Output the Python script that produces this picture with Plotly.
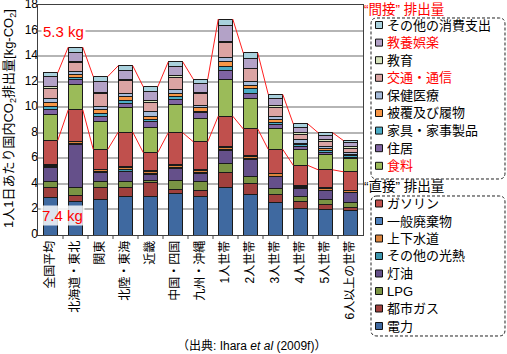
import plotly.graph_objects as go

# ---------------- data ----------------
categories = ["全国平均", "北海道・東北", "関東", "北陸・東海", "近畿", "中国・四国", "九州・沖縄",
              "1人世帯", "2人世帯", "3人世帯", "4人世帯", "5人世帯", "6人以上の世帯"]

# direct emissions (bottom -> top)
denryoku   = [2.9, 2.6, 2.8, 3.0, 3.0, 3.25, 3.0, 3.7, 3.2, 2.55, 2.1, 2.0, 1.9]
toshigas   = [0.85, 0.5, 0.9, 0.7, 1.1, 0.35, 0.5, 1.2, 0.85, 0.65, 0.55, 0.35, 0.25]
lpg        = [0.45, 0.6, 0.45, 0.5, 0.2, 0.65, 0.65, 0.7, 0.55, 0.45, 0.35, 0.4, 0.4]
touyu      = [1.05, 3.4, 0.75, 0.8, 0.45, 0.95, 0.7, 1.0, 1.3, 0.9, 0.65, 0.7, 0.75]
sonota_kou = [0.1, 0.08, 0.07, 0.1, 0.08, 0.1, 0.07, 0.1, 0.1, 0.05, 0.05, 0.05, 0.05]
jougesui   = [0.12, 0.12, 0.13, 0.15, 0.15, 0.15, 0.12, 0.15, 0.15, 0.2, 0.1, 0.15, 0.1]
haikibutsu = [0.08, 0.05, 0.05, 0.1, 0.07, 0.1, 0.06, 0.1, 0.1, 0.05, 0.05, 0.05, 0.05]
gasoline   = [1.85, 2.45, 1.55, 2.7, 1.4, 2.45, 2.2, 2.35, 2.05, 1.85, 1.6, 1.4, 1.45]

# indirect emissions (bottom -> top)
shokuryo   = [2.05, 1.95, 2.2, 1.95, 2.0, 2.2, 1.85, 2.85, 2.4, 1.6, 1.25, 1.2, 1.05]
jukyo      = [0.4, 0.4, 0.4, 0.3, 0.4, 0.4, 0.4, 0.7, 0.4, 0.35, 0.2, 0.15, 0.1]
kagu       = [0.2, 0.2, 0.2, 0.2, 0.2, 0.25, 0.15, 0.3, 0.35, 0.15, 0.15, 0.15, 0.1]
hifuku     = [0.3, 0.25, 0.3, 0.35, 0.25, 0.25, 0.25, 0.4, 0.25, 0.25, 0.15, 0.15, 0.1]
hoken      = [0.35, 0.2, 0.25, 0.25, 0.35, 0.3, 0.2, 0.35, 0.3, 0.25, 0.25, 0.15, 0.15]
koutsu     = [0.8, 0.7, 1.0, 1.0, 0.75, 0.95, 0.95, 1.2, 1.0, 0.7, 0.4, 0.4, 0.35]
kyouiku    = [0.1, 0.1, 0.1, 0.05, 0.1, 0.1, 0.05, 0.05, 0.05, 0.1, 0.15, 0.15, 0.15]
kyouyou    = [0.8, 0.7, 0.85, 0.75, 0.75, 0.7, 0.7, 1.25, 0.75, 0.6, 0.45, 0.35, 0.3]
sonota_shi = [0.3, 0.4, 0.4, 0.35, 0.35, 0.4, 0.35, 0.5, 0.45, 0.3, 0.25, 0.2, 0.15]

direct_names = ["電力", "都市ガス", "LPG", "灯油", "その他の光熱", "上下水道", "一般廃棄物", "ガソリン"]
direct_vals = [denryoku, toshigas, lpg, touyu, sonota_kou, jougesui, haikibutsu, gasoline]
direct_colors = ["#3F69A0", "#A0403D", "#7A9444", "#65508A", "#3D96AE", "#DB843D", "#4F81BD", "#C0504D"]

indirect_names = ["食料", "住居", "家具・家事製品", "被覆及び履物", "保健医療", "交通・通信", "教育", "教養娯楽", "その他の消費支出"]
indirect_vals = [shokuryo, jukyo, kagu, hifuku, hoken, koutsu, kyouiku, kyouyou, sonota_shi]
indirect_colors = ["#9BBB59", "#8064A2", "#4BACC6", "#F79646", "#A6BCDB", "#DBA4A3", "#D7E4BD", "#B3A2C7", "#A9D1DD"]
indirect_red = {"食料", "交通・通信", "教養娯楽"}

y_ticks = [0, 2, 4, 6, 8, 10, 12, 14, 16, 18]
y_max = 18

label_direct = "7.4 kg"
label_indirect = "5.3 kg"
source_text = "（出典: Ihara <i>et al</i> (2009f)）"
ytitle = "1人1日あたり国内CO<sub>2</sub>排出量[kg-CO<sub>2</sub>]"

# ---------------- geometry ----------------
W, H = 507, 354
ML, MR, MT, MB = 38, 144, 5, 119
PW, PH = W - ML - MR, H - MT - MB
BAR_W = 0.58


def px(x):
    return (x - ML) / PW


def py(y):
    return (H - MB - y) / PH


JP = "Liberation Sans, Noto Sans CJK JP, sans-serif"
n = len(categories)
xs = list(range(n))

fig = go.Figure()
for name, vals, col in zip(direct_names + indirect_names, direct_vals + indirect_vals,
                           direct_colors + indirect_colors):
    fig.add_trace(go.Bar(x=xs, y=vals, name=name, width=BAR_W, showlegend=False,
                         marker=dict(color=col, line=dict(color="#1a1a1a", width=1))))

direct_tot = [sum(v[i] for v in direct_vals) for i in range(n)]
total = [direct_tot[i] + sum(v[i] for v in indirect_vals) for i in range(n)]

# series lines (connect bar edges)
for series in (total, direct_tot):
    lx, ly = [], []
    for i in range(n - 1):
        lx += [xs[i] + BAR_W / 2, xs[i + 1] - BAR_W / 2, None]
        ly += [series[i], series[i + 1], None]
    fig.add_trace(go.Scatter(x=lx, y=ly, mode="lines", showlegend=False, hoverinfo="skip",
                             line=dict(color="#FF2020", width=1)))

# y tick labels as a text trace at the left edge of the axis
fig.add_trace(go.Scatter(x=[-0.5] * len(y_ticks), y=y_ticks, mode="text",
                         text=[str(v) for v in y_ticks], textposition="middle left",
                         cliponaxis=False, showlegend=False, hoverinfo="skip",
                         textfont=dict(size=12, family="Liberation Sans", color="#000000")))

shapes = []
annotations = []


def ann(x, y, text, xanchor="center", yanchor="middle", **kw):
    d = dict(x=px(x), y=py(y), xref="paper", yref="paper", xanchor=xanchor, yanchor=yanchor,
             showarrow=False, text=text)
    d.update(kw)
    annotations.append(d)


def rrect(x0, y0, x1, y1, r):
    pts = [("M", x0 + r, y0), ("L", x1 - r, y0), ("Q", x1, y0, x1, y0 + r), ("L", x1, y1 - r),
           ("Q", x1, y1, x1 - r, y1), ("L", x0 + r, y1), ("Q", x0, y1, x0, y1 - r), ("L", x0, y0 + r),
           ("Q", x0, y0, x0 + r, y0)]
    s = ""
    for p in pts:
        cmd = p[0]
        coords = p[1:]
        s += cmd + " " + " ".join(
            f"{px(coords[k]):.5f},{py(coords[k + 1]):.5f}" for k in range(0, len(coords), 2)) + " "
    return s + "Z"


def legend_block(title, title_color, title_y, box, names, colors, y_start, step, red_set):
    ann(362, title_y, title, xanchor="left",
        font=dict(size=13.5, color=title_color, family=JP))
    shapes.append(dict(type="path", xref="paper", yref="paper", path=rrect(*box, 6),
                       line=dict(color="#222222", width=1, dash="3px,2px")))
    for k, (nm, col) in enumerate(zip(names, colors)):
        yc = y_start + k * step
        shapes.append(dict(type="rect", xref="paper", yref="paper",
                           x0=px(375.5), x1=px(382.5), y0=py(yc + 3.5), y1=py(yc - 3.5),
                           fillcolor=col, line=dict(color="#111111", width=1)))
        ann(385, yc, nm, xanchor="left",
            font=dict(size=13, family=JP, color="#FF0000" if nm in red_set else "#000000"))


legend_block("“間接” 排出量", "#FF0000", 9, (371, 18, 505, 179),
             indirect_names[::-1], indirect_colors[::-1], 25, 17.6, indirect_red)
legend_block("“直接” 排出量", "#000000", 186, (371, 196, 505, 336),
             direct_names[::-1], direct_colors[::-1], 203.5, 17.5, set())

# category boundary tick marks on the x axis
for i in range(n - 1):
    xb = px(ML + PW * (xs[i] + 1.0) / n)
    shapes.append(dict(type="line", xref="paper", yref="paper", x0=xb, x1=xb,
                       y0=0, y1=py(H - MB + 4), line=dict(color="#404040", width=1)))

# y title
ann(9, 119, ytitle, textangle=-90, font=dict(size=13, color="#000000", family=JP))

# value labels
ann(63.5, 32, label_indirect, bgcolor="#FFFFFF",
    font=dict(size=15, color="#FF0000", family="Liberation Sans"))
ann(62, 215, label_direct, bgcolor="rgba(255,255,255,0.82)",
    font=dict(size=15, color="#FF0000", family="Liberation Sans"))
# source
ann(251, 346, source_text, font=dict(size=12, color="#000000", family=JP))

fig.update_layout(
    width=W, height=H, barmode="stack", bargap=0,
    margin=dict(l=ML, r=MR, t=MT, b=MB, pad=0),
    paper_bgcolor="white", plot_bgcolor="white",
    shapes=shapes, annotations=annotations,
    font=dict(family=JP, color="#000000", size=12),
    xaxis=dict(range=[-0.5, n - 0.5], tickmode="array", tickvals=xs, ticktext=categories,
               tickangle=-90, tickfont=dict(size=12, family=JP, color="#000000"),
               ticks="", showgrid=False, showline=True, linecolor="#404040", linewidth=1,
               mirror=True, zeroline=False, automargin=False),
    yaxis=dict(range=[0, y_max], tickmode="array", tickvals=y_ticks, showticklabels=False,
               automargin=False,
               showgrid=True, gridcolor="#B5B5B5", gridwidth=2, ticks="",
               showline=True, linecolor="#404040", linewidth=1, mirror=True, zeroline=False),
)

fig.write_html("out.html", config={"staticPlot": True})
